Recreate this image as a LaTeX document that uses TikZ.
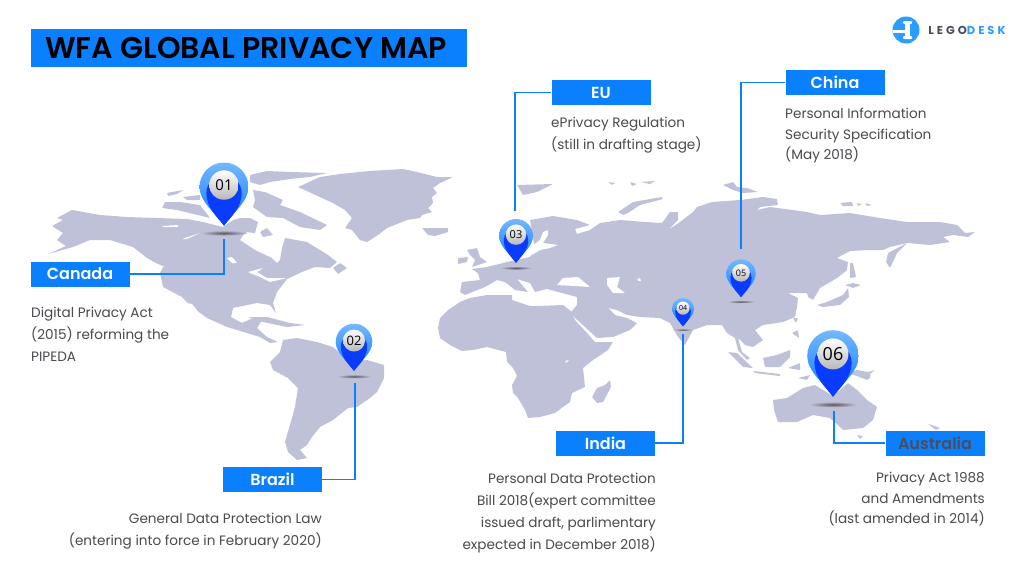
\documentclass[tikz,border=0pt]{standalone}
\usepackage{fontspec}
\usepackage{xcolor}
\setmainfont{Poppins}
\newfontfamily\pinfont{Open Sans}
\newfontfamily\headfont{Poppins SemiBold}
\newfontfamily\logofont[LetterSpace=26]{Poppins}
\usetikzlibrary{positioning}
\definecolor{mapgrey}{HTML}{BFC1D9}
\definecolor{boxblue}{HTML}{0A80FF}
\definecolor{pinlight}{HTML}{74B8FF}
\definecolor{pinblue}{HTML}{0A78FF}
\definecolor{pindark}{HTML}{0A3CFF}
\definecolor{bodygrey}{HTML}{4A4A4F}
\definecolor{logodark}{HTML}{4A4E5A}
\definecolor{logoblue}{HTML}{2A9DFF}
\tikzset{
  mapland/.style={fill=mapgrey,rounded corners=0.6pt},
  mapwater/.style={fill=white,rounded corners=0.6pt},
  namebox/.style={fill=boxblue,text=white,font=\headfont\fontsize{16}{18}\selectfont,minimum width=99pt,minimum height=25pt,inner sep=0pt},
  bodyleft/.style={anchor=north west,align=left,inner sep=0pt,text=bodygrey},
  bodyright/.style={anchor=north east,align=right,inner sep=0pt,text=bodygrey},
  leader/.style={draw=boxblue,line width=1.8pt}
}
\newcommand{\mappin}[6]{%
  \begin{scope}[shift={(#2,#3)},x=#4pt,y=-#4pt]
    \path[shade,shading=radial,inner color=black!65,outer color=mapgrey] (0,1.88) circle [x radius=0.95,y radius=0.11];
    \path[shade,top color=pinlight,middle color=pinblue,bottom color=pinblue] (0,1.58) .. controls (-0.35,1.05) and (-1,0.6) .. (-1,0) .. controls (-1,-0.55) and (-0.55,-1) .. (0,-1) .. controls (0.55,-1) and (1,-0.55) .. (1,0) .. controls (1,0.6) and (0.35,1.05) .. (0,1.58) -- cycle;
    \fill[pindark] (0,1.58) .. controls (-0.25,1.25) and (-0.72,0.85) .. (-0.72,0.25) .. controls (-0.72,-0.15) and (-0.4,-0.45) .. (0,-0.45) .. controls (0.4,-0.45) and (0.72,-0.15) .. (0.72,0.25) .. controls (0.72,0.85) and (0.25,1.25) .. (0,1.58) -- cycle;
    \node[circle,minimum size=1.2*#4pt,inner sep=0pt,top color=white,bottom color=black!28,text=black,font=\pinfont\fontsize{#5}{#5}\selectfont] (#1) at (0,-0.08) {#6};
  \end{scope}}
\begin{document}
\begin{tikzpicture}[x=1pt,y=-1pt]
        \useasboundingbox (0,0) rectangle (1024,576);
        \fill[white] (0,0) rectangle (1024,576);
        % north america
        \fill[mapland] (57,218) -- (72,210) -- (100,215) -- (127,217) -- (157,218) -- (187,219) -- (203,222) -- (223,227) -- (233,220) -- (240,218) -- (250,218) -- (258,222) -- (255,233) -- (245,232) -- (240,240) -- (255,250) -- (272,258) -- (277,263) -- (280,260) -- (282,248) -- (285,238) -- (307,242) -- (328,255) -- (337,262) -- (330,268) -- (315,267) -- (302,272) -- (287,279) -- (277,292) -- (273,303) -- (276,313) -- (270,305) -- (257,303) -- (233,308) -- (231,317) -- (242,323) -- (253,318) -- (262,320) -- (257,328) -- (267,337) -- (278,342) -- (270,343) -- (260,337) -- (247,333) -- (227,327) -- (207,318) -- (192,307) -- (182,297) -- (163,287) -- (160,273) -- (163,267) -- (147,258) -- (133,247) -- (110,240) -- (90,240) -- (73,247) -- (48,254) -- (66,246) -- (57,240) -- (63,233) -- (52,226) -- (63,220) -- cycle;
        \fill[mapland] (162,208) -- (165,202) -- (180,202) -- (200,205) -- (210,218) -- (177,210) -- cycle;
        \fill[mapland] (167,193) -- (183,190) -- (177,194) -- (168,196) -- cycle;
        \fill[mapland] (183,197) -- (200,195) -- (200,200) -- (187,200) -- cycle;
        \fill[mapland] (250,175) -- (267,171) -- (290,172) -- (327,173) -- (310,177) -- (290,179) -- (270,182) -- (260,185) -- (250,182) -- cycle;
        \fill[mapland] (253,190) -- (265,192) -- (283,200) -- (280,205) -- (300,212) -- (327,225) -- (320,230) -- (300,227) -- (283,218) -- (267,217) -- (253,207) -- (255,200) -- cycle;
        \fill[mapland] (260,232) -- (267,228) -- (273,235) -- (263,237) -- cycle;
        \fill[mapland] (333,268) -- (340,263) -- (347,268) -- (338,274) -- cycle;
        \fill[mapland] (248,317) -- (267,317) -- (290,323) -- (305,325) -- (287,327) -- (263,322) -- cycle;
        % greenland, iceland
        \fill[mapland] (298,187) -- (320,177) -- (340,174) -- (370,171) -- (403,169) -- (417,172) -- (437,177) -- (453,177) -- (440,183) -- (433,188) -- (437,193) -- (432,197) -- (433,203) -- (428,208) -- (432,212) -- (422,215) -- (420,218) -- (407,220) -- (387,228) -- (378,235) -- (367,242) -- (360,240) -- (352,230) -- (345,228) -- (352,218) -- (345,210) -- (333,203) -- cycle;
        \fill[mapland] (422,228) -- (437,228) -- (448,228) -- (448,232) -- (435,236) -- (428,235) -- cycle;
        % south america
        \fill[mapland] (270,362) -- (280,352) -- (283,340) -- (297,338) -- (317,342) -- (333,347) -- (350,362) -- (367,360) -- (384,365) -- (384,378) -- (377,392) -- (370,398) -- (357,407) -- (348,408) -- (333,420) -- (320,427) -- (312,437) -- (307,445) -- (300,450) -- (307,458) -- (297,460) -- (288,452) -- (285,442) -- (292,418) -- (295,407) -- (298,388) -- (288,378) -- (273,370) -- cycle;
        % africa
        \fill[mapland] (440,318) -- (448,310) -- (460,302) -- (470,298) -- (487,295) -- (512,295) -- (512,300) -- (530,306) -- (537,306) -- (563,305) -- (572,312) -- (575,320) -- (587,333) -- (595,342) -- (613,342) -- (608,350) -- (593,360) -- (583,368) -- (585,387) -- (572,393) -- (570,402) -- (563,407) -- (555,413) -- (540,417) -- (528,418) -- (525,410) -- (518,398) -- (513,393) -- (512,385) -- (517,376) -- (513,368) -- (507,362) -- (506,352) -- (487,347) -- (473,350) -- (462,351) -- (450,345) -- (440,338) -- (438,328) -- cycle;
        \fill[mapland] (610,380) -- (611,387) -- (603,402) -- (597,403) -- (592,397) -- (597,388) -- (605,385) -- cycle;
        % eurasia
        \fill[mapland] (460,292) -- (462,282) -- (480,280) -- (478,273) -- (472,269) -- (487,267) -- (507,262) -- (530,257) -- (535,250) -- (530,220) -- (553,216) -- (577,220) -- (590,225) -- (575,229) -- (577,234) -- (590,230) -- (600,223) -- (620,220) -- (645,222) -- (662,223) -- (670,212) -- (678,212) -- (678,220) -- (668,230) -- (680,222) -- (693,212) -- (697,207) -- (712,202) -- (740,200) -- (763,197) -- (777,199) -- (778,205) -- (760,207) -- (757,210) -- (770,207) -- (807,212) -- (820,215) -- (850,213) -- (880,218) -- (907,222) -- (940,222) -- (957,225) -- (965,233) -- (975,232) -- (968,237) -- (953,235) -- (943,237) -- (950,242) -- (930,245) -- (907,243) -- (890,247) -- (883,250) -- (870,250) -- (850,251) -- (837,258) -- (848,262) -- (847,270) -- (837,278) -- (820,288) -- (813,300) -- (808,297) -- (807,293) -- (788,293) -- (798,298) -- (797,307) -- (795,317) -- (783,322) -- (763,325) -- (755,330) -- (763,340) -- (753,347) -- (745,345) -- (738,338) -- (742,352) -- (750,358) -- (747,360) -- (738,350) -- (735,338) -- (727,333) -- (722,325) -- (707,325) -- (693,330) -- (685,345) -- (678,337) -- (670,323) -- (660,318) -- (640,317) -- (627,315) -- (617,310) -- (608,308) -- (615,315) -- (627,318) -- (637,323) -- (630,330) -- (613,337) -- (597,338) -- (585,327) -- (575,318) -- (571,312) -- (577,305) -- (577,297) -- (547,289) -- (535,292) -- (530,283) -- (517,279) -- (528,292) -- (515,290) -- (505,282) -- (497,280) -- (485,287) -- (475,291) -- (465,295) -- cycle;
        \fill[mapland] (907,243) -- (897,253) -- (890,268) -- (886,262) -- (888,253) -- cycle;
        \fill[mapland] (467,250) -- (477,248) -- (480,257) -- (487,262) -- (472,267) -- (475,260) -- (470,255) -- cycle;
        \fill[mapland] (458,258) -- (468,257) -- (467,262) -- (458,264) -- cycle;
        % arctic islands
        \fill[mapland] (517,185) -- (553,184) -- (537,192) -- (523,195) -- cycle;
        \fill[mapland] (608,182) -- (615,183) -- (612,185) -- cycle;
        \fill[mapland] (630,182) -- (637,184) -- (632,186) -- cycle;
        \fill[mapland] (641,182) -- (655,181) -- (650,184) -- cycle;
        \fill[mapland] (618,212) -- (633,202) -- (662,197) -- (663,199) -- (640,205) -- (628,213) -- (623,215) -- cycle;
        \fill[mapland] (723,185) -- (733,182) -- (737,187) -- (747,188) -- (758,192) -- (743,193) -- (733,190) -- cycle;
        \fill[mapland] (840,203) -- (852,202) -- (853,206) -- (843,206) -- cycle;
        \fill[mapland] (857,203) -- (862,204) -- (858,206) -- cycle;
        \fill[mapland] (865,203) -- (872,205) -- (867,206) -- cycle;
        % japan, south east asia
        \fill[mapland] (817,305) -- (827,302) -- (843,295) -- (848,288) -- (849,297) -- (840,305) -- (823,307) -- cycle;
        \fill[mapland] (845,285) -- (853,283) -- (861,285) -- (853,288) -- cycle;
        \fill[mapland] (850,263) -- (853,263) -- (856,277) -- (850,278) -- cycle;
        \fill[mapland] (728,352) -- (737,353) -- (753,368) -- (743,367) -- cycle;
        \fill[mapland] (763,358) -- (777,355) -- (790,350) -- (790,357) -- (780,367) -- (765,367) -- cycle;
        \fill[mapland] (753,371) -- (780,374) -- (780,376) -- (755,373) -- cycle;
        \fill[mapland] (792,333) -- (798,330) -- (799,338) -- cycle;
        \fill[mapland] (793,318) -- (798,318) -- (796,323) -- cycle;
        \fill[mapland] (788,368) -- (800,363) -- (800,370) -- cycle;
        \fill[mapland] (798,378) -- (810,375) -- (807,380) -- cycle;
        \fill[mapland] (847,373) -- (857,370) -- (868,372) -- (875,370) -- (870,374) -- (870,378) -- (867,380) -- (857,376) -- cycle;
        % australia
        \fill[mapland] (773,400) -- (787,398) -- (803,388) -- (815,385) -- (833,396) -- (848,383) -- (857,390) -- (867,400) -- (877,407) -- (873,420) -- (863,428) -- (843,430) -- (840,427) -- (830,418) -- (813,415) -- (797,422) -- (778,422) -- (774,410) -- cycle;
        \fill[mapland] (857,435) -- (863,436) -- (860,439) -- cycle;
        \fill[mapland] (928,424) -- (932,425) -- (940,428) -- (936,430) -- cycle;
        % lakes and inner seas
        \fill[mapwater] (248,272) -- (263,268) -- (257,272) -- (267,278) -- (287,278) -- (270,282) -- (260,277) -- (250,273) -- cycle;
        \fill[mapwater] (227,258) -- (232,257) -- (237,263) -- (232,263) -- cycle;
        \fill[mapwater] (162,226) -- (178,225) -- (178,227) -- (163,227) -- cycle;
        \fill[mapwater] (182,239) -- (200,233) -- (187,239) -- cycle;
        \fill[mapwater] (153,262) -- (165,267) -- (160,267) -- cycle;
        \fill[mapwater] (187,303) -- (192,304) -- (203,318) -- cycle;
        \fill[mapwater] (533,245) -- (540,240) -- (543,232) -- (548,230) -- (548,235) -- (543,243) -- (558,245) -- (550,248) -- (540,250) -- (532,255) -- cycle;
        \fill[mapwater] (557,285) -- (563,278) -- (578,277) -- (590,287) -- (575,286) -- cycle;
        \fill[mapwater] (607,278) -- (620,277) -- (617,287) -- (625,293) -- (613,293) -- (607,285) -- cycle;
        \fill[mapwater] (637,279) -- (640,278) -- (641,281) -- (638,281) -- cycle;
        \fill[mapwater] (565,361) -- (569,360) -- (566,363) -- cycle;

        \node[fill=boxblue,minimum width=436pt,minimum height=38pt,inner sep=0pt,text=black,font=\headfont\fontsize{30}{34}\selectfont] (titlebox) at (249,47.5) {WFA GLOBAL PRIVACY MAP\kern6pt};
        \fill[logoblue] (906,30) circle (13.5);
        \node[inner sep=0pt,font=\logofont\bfseries\fontsize{11.5}{11.5}\selectfont] (logotext) at (967,30.5) {\textcolor{logodark}{LEGO}\textcolor{logoblue}{DESK}};
        \fill[white] (893,29.5) rectangle (906,32.5);
        \fill[white,rounded corners=1pt] (903,21) rectangle (912,24);
        \fill[white] (905,23) rectangle (910,37);
        \fill[white,rounded corners=1pt] (903,36) rectangle (912,39);

        \node[namebox] (canada) at (80,274) {Canada};
        \node[namebox] (brazil) at (272.5,479.5) {Brazil};
        \node[namebox] (eu) at (601,92.5) {EU};
        \node[namebox] (china) at (835,82.5) {China};
        \node[namebox] (india) at (605.5,443) {India};
        \node[namebox,text=logodark] (australia) at (935,443) {Australia};

        \begin{scope}[every node/.style={font=\fontsize{13.6}{22}\selectfont}]
          \node[bodyleft] (canadatext) at (31,307) {Digital Privacy Act\\(2015) reforming the\\PIPEDA};
          \node[bodyright] (braziltext) at (322,513) {General Data Protection Law\\(entering into force in February 2020)};
          \node[bodyleft] (eutext) at (551,117) {ePrivacy Regulation\\(still in drafting stage)};
          \node[bodyright] (indiatext) at (656,473) {Personal Data Protection\\Bill 2018(expert committee\\issued draft, parlimentary\\expected in December 2018)};
        \end{scope}
        \begin{scope}[every node/.style={font=\fontsize{13.6}{20.7}\selectfont}]
          \node[bodyleft] (chinatext) at (785,108) {Personal Information\\Security Specification\\(May 2018)};
          \node[bodyright] (australiatext) at (985,472) {Privacy Act 1988\\and Amendments\\(last amended in 2014)};
        \end{scope}

        \coordinate (canadaend) at (224,239);
        \coordinate (brazilend) at (355,383);
        \coordinate (euend) at (515,211);
        \coordinate (chinaend) at (741,249);
        \coordinate (indiaend) at (683,334);
        \coordinate (australiaend) at (834,411);
        \draw[leader] (canada.east) -| (canadaend);
        \draw[leader] (brazil.east) -| (brazilend);
        \draw[leader] (eu.west) -| (euend);
        \draw[leader] (china.west) -| (chinaend);
        \draw[leader] (india.east) -| (indiaend);
        \draw[leader] (australia.west) -| (australiaend);

        \mappin{pinone}{224}{187}{24.5}{15}{01}
        \mappin{pintwo}{354}{342}{18.3}{13}{02}
        \mappin{pinthree}{516}{236}{17}{11}{03}
        \mappin{pinfour}{683}{309}{11}{7}{04}
        \mappin{pinfive}{741}{274}{14.7}{9}{05}
        \mappin{pinsix}{833}{356}{25.8}{18}{06}
      \end{tikzpicture}
\end{document}
